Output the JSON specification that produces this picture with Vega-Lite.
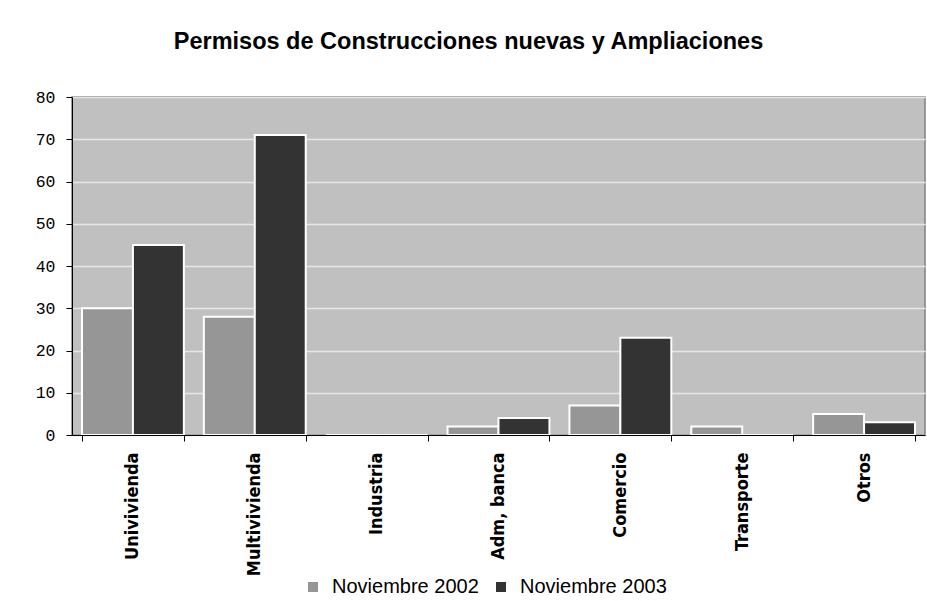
{
  "$schema": "https://vega.github.io/schema/vega-lite/v6.json",
  "autosize": {"type": "none"},
  "width": 853,
  "height": 338,
  "padding": {"left": 72, "top": 97, "right": 2, "bottom": 166},
  "background": "white",
  "title": {
    "text": "Permisos de Construcciones nuevas y Ampliaciones",
    "font": "Liberation Sans",
    "fontSize": 23.5,
    "fontWeight": "bold",
    "color": "black",
    "anchor": "middle",
    "frame": "group",
    "dx": -30,
    "offset": 36
  },
  "data": {
    "values": [
      {"tipo": "Univivienda", "periodo": "Noviembre 2002", "permisos": 30},
      {"tipo": "Univivienda", "periodo": "Noviembre 2003", "permisos": 45},
      {"tipo": "Multivivienda", "periodo": "Noviembre 2002", "permisos": 28},
      {"tipo": "Multivivienda", "periodo": "Noviembre 2003", "permisos": 71},
      {"tipo": "Industria", "periodo": "Noviembre 2002", "permisos": 0},
      {"tipo": "Industria", "periodo": "Noviembre 2003", "permisos": 0},
      {"tipo": "Adm, banca", "periodo": "Noviembre 2002", "permisos": 2},
      {"tipo": "Adm, banca", "periodo": "Noviembre 2003", "permisos": 4},
      {"tipo": "Comercio", "periodo": "Noviembre 2002", "permisos": 7},
      {"tipo": "Comercio", "periodo": "Noviembre 2003", "permisos": 23},
      {"tipo": "Transporte", "periodo": "Noviembre 2002", "permisos": 2},
      {"tipo": "Transporte", "periodo": "Noviembre 2003", "permisos": 0},
      {"tipo": "Otros", "periodo": "Noviembre 2002", "permisos": 5},
      {"tipo": "Otros", "periodo": "Noviembre 2003", "permisos": 3}
    ]
  },
  "mark": {"type": "bar", "stroke": "white", "strokeWidth": 2},
  "encoding": {
    "x": {
      "field": "tipo",
      "type": "nominal",
      "sort": null,
      "scale": {"paddingInner": 0.164, "paddingOuter": 0.082},
      "axis": {
        "title": null,
        "labelAngle": -90,
        "labelFont": "DejaVu Sans Condensed, Liberation Sans, sans-serif",
        "labelFontSize": 18,
        "labelFontWeight": "bold",
        "labelColor": "black",
        "labelPadding": 11,
        "tickBand": "extent",
        "tickSize": 6,
        "tickColor": "black",
        "domainColor": "black",
        "zindex": 1
      }
    },
    "xOffset": {"field": "periodo", "type": "nominal", "sort": null},
    "y": {
      "field": "permisos",
      "type": "quantitative",
      "scale": {"domain": [0, 80], "nice": false},
      "axis": {
        "title": null,
        "values": [0, 10, 20, 30, 40, 50, 60, 70, 80],
        "labelFont": "Liberation Mono",
        "labelFontSize": 16.5,
        "labelColor": "black",
        "labelPadding": 11,
        "tickSize": 6,
        "tickColor": "black",
        "domainColor": "black",
        "gridColor": "#E6E6E6",
        "gridWidth": 1.5,
        "gridOpacity": 1
      }
    },
    "color": {
      "field": "periodo",
      "type": "nominal",
      "sort": null,
      "scale": {"range": ["#969696", "#333333"]},
      "legend": {
        "title": null,
        "orient": "none",
        "direction": "horizontal",
        "legendX": 231,
        "legendY": 480,
        "padding": 0,
        "symbolType": "square",
        "symbolSize": 100,
        "symbolStrokeWidth": 0,
        "symbolOpacity": 1,
        "labelFont": "Liberation Sans",
        "labelFontSize": 20,
        "labelColor": "black",
        "labelOffset": 9,
        "columnPadding": 12
      }
    }
  },
  "config": {
    "view": {"fill": "#C0C0C0", "stroke": "#808080", "strokeWidth": 1.5}
  }
}
